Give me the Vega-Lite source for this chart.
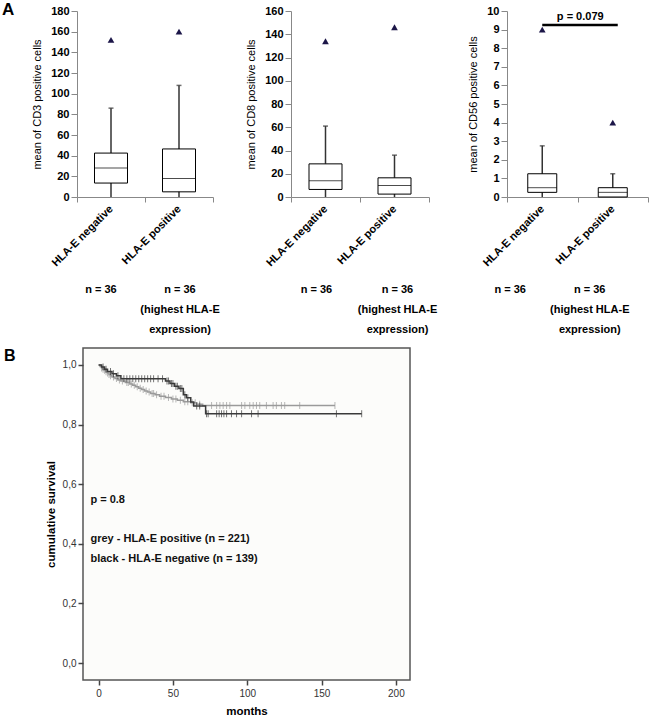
{
  "$schema": "https://vega.github.io/schema/vega-lite/v6.json",
  "autosize": {"type": "pad"},
  "padding": {"left": 2, "top": 1, "right": 0, "bottom": 0},
  "background": "white",
  "config": {
    "font": "Liberation Sans",
    "view": {"stroke": null},
    "axis": {"grid": false, "labelFont": "Liberation Sans", "titleFont": "Liberation Sans", "labelColor": "#000", "titleColor": "#000"},
    "axisY": {"labelFontWeight": "bold", "labelFontSize": 11, "titleFontWeight": "normal", "titleFontSize": 11, "tickSize": 6, "labelPadding": 2, "titlePadding": 8, "domainColor": "#888", "tickColor": "#888", "labelOverlap": false}
  },
  "datasets": {
    "km": [
      {"g": "pos", "m": 0, "s": 1.0}, {"g": "pos", "m": 1, "s": 0.995}, {"g": "pos", "m": 2, "s": 0.99}, {"g": "pos", "m": 3, "s": 0.986},
      {"g": "pos", "m": 4, "s": 0.982}, {"g": "pos", "m": 5, "s": 0.977}, {"g": "pos", "m": 6, "s": 0.973}, {"g": "pos", "m": 7, "s": 0.968},
      {"g": "pos", "m": 8, "s": 0.964}, {"g": "pos", "m": 9, "s": 0.96}, {"g": "pos", "m": 11, "s": 0.955}, {"g": "pos", "m": 13, "s": 0.95},
      {"g": "pos", "m": 15, "s": 0.946}, {"g": "pos", "m": 18, "s": 0.941}, {"g": "pos", "m": 21, "s": 0.936}, {"g": "pos", "m": 23, "s": 0.932},
      {"g": "pos", "m": 25, "s": 0.927}, {"g": "pos", "m": 27, "s": 0.922}, {"g": "pos", "m": 29, "s": 0.918}, {"g": "pos", "m": 31, "s": 0.913},
      {"g": "pos", "m": 33, "s": 0.909}, {"g": "pos", "m": 35, "s": 0.904}, {"g": "pos", "m": 38, "s": 0.9}, {"g": "pos", "m": 41, "s": 0.895},
      {"g": "pos", "m": 45, "s": 0.891}, {"g": "pos", "m": 49, "s": 0.886}, {"g": "pos", "m": 53, "s": 0.882}, {"g": "pos", "m": 57, "s": 0.877},
      {"g": "pos", "m": 62, "s": 0.873}, {"g": "pos", "m": 66, "s": 0.868}, {"g": "pos", "m": 70, "s": 0.864}, {"g": "pos", "m": 159, "s": 0.864},
      {"g": "neg", "m": 0, "s": 1.0}, {"g": "neg", "m": 2, "s": 0.993}, {"g": "neg", "m": 4, "s": 0.986}, {"g": "neg", "m": 6, "s": 0.978},
      {"g": "neg", "m": 9, "s": 0.971}, {"g": "neg", "m": 12, "s": 0.964}, {"g": "neg", "m": 15, "s": 0.954}, {"g": "neg", "m": 45, "s": 0.946},
      {"g": "neg", "m": 48, "s": 0.938}, {"g": "neg", "m": 51, "s": 0.929}, {"g": "neg", "m": 54, "s": 0.921}, {"g": "neg", "m": 57, "s": 0.9},
      {"g": "neg", "m": 59, "s": 0.89}, {"g": "neg", "m": 62, "s": 0.876}, {"g": "neg", "m": 64, "s": 0.862}, {"g": "neg", "m": 72, "s": 0.836},
      {"g": "neg", "m": 177, "s": 0.836}
    ],
    "cens": [
      {"g": "pos", "m": 2, "s": 0.99}, {"g": "pos", "m": 3, "s": 0.986}, {"g": "pos", "m": 4, "s": 0.982}, {"g": "pos", "m": 5, "s": 0.977},
      {"g": "pos", "m": 6, "s": 0.973}, {"g": "pos", "m": 7, "s": 0.968}, {"g": "pos", "m": 8, "s": 0.964}, {"g": "pos", "m": 10, "s": 0.96},
      {"g": "pos", "m": 12, "s": 0.955}, {"g": "pos", "m": 14, "s": 0.95}, {"g": "pos", "m": 16, "s": 0.946}, {"g": "pos", "m": 19, "s": 0.941},
      {"g": "pos", "m": 20, "s": 0.941}, {"g": "pos", "m": 22, "s": 0.936}, {"g": "pos", "m": 24, "s": 0.932}, {"g": "pos", "m": 26, "s": 0.927},
      {"g": "pos", "m": 28, "s": 0.922}, {"g": "pos", "m": 30, "s": 0.918}, {"g": "pos", "m": 32, "s": 0.913}, {"g": "pos", "m": 34, "s": 0.909},
      {"g": "pos", "m": 36, "s": 0.904}, {"g": "pos", "m": 37, "s": 0.904}, {"g": "pos", "m": 39, "s": 0.9}, {"g": "pos", "m": 42, "s": 0.895},
      {"g": "pos", "m": 44, "s": 0.895}, {"g": "pos", "m": 47, "s": 0.891}, {"g": "pos", "m": 50, "s": 0.886}, {"g": "pos", "m": 52, "s": 0.886},
      {"g": "pos", "m": 55, "s": 0.882}, {"g": "pos", "m": 58, "s": 0.877}, {"g": "pos", "m": 60, "s": 0.877}, {"g": "pos", "m": 63, "s": 0.873},
      {"g": "pos", "m": 65, "s": 0.873}, {"g": "pos", "m": 68, "s": 0.868}, {"g": "pos", "m": 76, "s": 0.864}, {"g": "pos", "m": 79.4, "s": 0.864},
      {"g": "pos", "m": 81.6, "s": 0.864}, {"g": "pos", "m": 83.8, "s": 0.864}, {"g": "pos", "m": 86.1, "s": 0.864}, {"g": "pos", "m": 88.3, "s": 0.864},
      {"g": "pos", "m": 96.2, "s": 0.864}, {"g": "pos", "m": 98.4, "s": 0.864}, {"g": "pos", "m": 101.7, "s": 0.864}, {"g": "pos", "m": 104, "s": 0.864},
      {"g": "pos", "m": 106.2, "s": 0.864}, {"g": "pos", "m": 108.4, "s": 0.864}, {"g": "pos", "m": 112.9, "s": 0.864}, {"g": "pos", "m": 117.4, "s": 0.864},
      {"g": "pos", "m": 119.6, "s": 0.864}, {"g": "pos", "m": 123, "s": 0.864}, {"g": "pos", "m": 125.2, "s": 0.864}, {"g": "pos", "m": 135.3, "s": 0.864},
      {"g": "pos", "m": 159, "s": 0.864},
      {"g": "neg", "m": 3, "s": 0.993}, {"g": "neg", "m": 5, "s": 0.986}, {"g": "neg", "m": 8, "s": 0.978}, {"g": "neg", "m": 10, "s": 0.971},
      {"g": "neg", "m": 13, "s": 0.964}, {"g": "neg", "m": 17, "s": 0.954}, {"g": "neg", "m": 19, "s": 0.954}, {"g": "neg", "m": 21, "s": 0.954},
      {"g": "neg", "m": 23, "s": 0.954}, {"g": "neg", "m": 25, "s": 0.954}, {"g": "neg", "m": 27, "s": 0.954}, {"g": "neg", "m": 29, "s": 0.954},
      {"g": "neg", "m": 31, "s": 0.954}, {"g": "neg", "m": 33, "s": 0.954}, {"g": "neg", "m": 35, "s": 0.954}, {"g": "neg", "m": 37, "s": 0.954},
      {"g": "neg", "m": 40, "s": 0.954}, {"g": "neg", "m": 43, "s": 0.954}, {"g": "neg", "m": 46, "s": 0.946}, {"g": "neg", "m": 47, "s": 0.946},
      {"g": "neg", "m": 49, "s": 0.938}, {"g": "neg", "m": 50, "s": 0.938}, {"g": "neg", "m": 52, "s": 0.929}, {"g": "neg", "m": 53, "s": 0.929},
      {"g": "neg", "m": 55, "s": 0.921}, {"g": "neg", "m": 56, "s": 0.921}, {"g": "neg", "m": 58, "s": 0.9}, {"g": "neg", "m": 60, "s": 0.89},
      {"g": "neg", "m": 66, "s": 0.862}, {"g": "neg", "m": 68, "s": 0.862}, {"g": "neg", "m": 72.6, "s": 0.836}, {"g": "neg", "m": 73.7, "s": 0.836},
      {"g": "neg", "m": 79.4, "s": 0.836}, {"g": "neg", "m": 81.1, "s": 0.836}, {"g": "neg", "m": 82.7, "s": 0.836}, {"g": "neg", "m": 84.3, "s": 0.836},
      {"g": "neg", "m": 86.1, "s": 0.836}, {"g": "neg", "m": 89.4, "s": 0.836}, {"g": "neg", "m": 92.8, "s": 0.836}, {"g": "neg", "m": 96.2, "s": 0.836},
      {"g": "neg", "m": 102.9, "s": 0.836}, {"g": "neg", "m": 107.3, "s": 0.836}, {"g": "neg", "m": 160, "s": 0.836}, {"g": "neg", "m": 177, "s": 0.836}
    ],
    "notes": [
      {"m": -5.5, "s": 0.548, "label": "p = 0.8"},
      {"m": -5.5, "s": 0.416, "label": "grey - HLA-E  positive (n = 221)"},
      {"m": -5.5, "s": 0.35, "label": "black - HLA-E negative (n = 139)"}
    ]
  },
  "vconcat": [
    {
      "hconcat": [
        {
          "width": 136, "height": 186,
          "title": {"text": "A", "orient": "left", "anchor": "end", "angle": 0, "align": "right", "baseline": "top", "fontSize": 17, "fontWeight": "bold", "offset": 5, "dy": -3},
          "data": {"values": [
            {"group": "HLA-E negative", "lo": 0, "q1": 13.5, "med": 28, "q3": 42.5, "hi": 86, "out": 152},
            {"group": "HLA-E positive", "lo": 0, "q1": 5, "med": 18, "q3": 46.5, "hi": 108, "out": 160}
          ]},
          "resolve": {"axis": {"x": "independent"}},
          "layer": [
            {"mark": {"type": "rule", "color": "#333", "strokeWidth": 1.5},
             "encoding": {
               "x": {"field": "group", "type": "nominal", "sort": null, "title": null, "scale": {"paddingInner": 0, "paddingOuter": 0},
                     "axis": {"labelAngle": -45, "labelAlign": "right", "labelBaseline": "middle", "tickBand": "extent", "tickSize": 5, "labelPadding": 5, "labelFontWeight": "bold", "labelFontSize": 11, "domainColor": "#888", "tickColor": "#888"}},
               "y": {"field": "lo", "type": "quantitative", "title": "mean of CD3 positive cells", "scale": {"domain": [0, 180], "nice": false}, "axis": {"values": [0, 20, 40, 60, 80, 100, 120, 140, 160, 180]}},
               "y2": {"field": "hi"}}},
            {"mark": {"type": "bar", "fill": "white", "stroke": "black", "strokeWidth": 1, "width": 33},
             "encoding": {
               "x": {"field": "group", "type": "nominal", "sort": null, "title": null, "axis": null},
               "y": {"field": "q1", "type": "quantitative", "title": "mean of CD3 positive cells", "scale": {"domain": [0, 180], "nice": false}, "axis": {"values": [0, 20, 40, 60, 80, 100, 120, 140, 160, 180]}},
               "y2": {"field": "q3"}}},
            {"mark": {"type": "tick", "color": "black", "size": 33, "thickness": 1},
             "encoding": {
               "x": {"field": "group", "type": "nominal", "sort": null, "title": null,
                     "axis": {"orient": "bottom", "offset": 86, "domain": false, "ticks": false, "labelAngle": 0, "labelAlign": "center", "labelBaseline": "top", "labelFontWeight": "bold", "labelFontSize": 11, "labelLineHeight": 20, "labelPadding": 0, "labelOverlap": false, "labelBound": false,
                              "labelOffset": {"condition": {"test": "datum.value === 'HLA-E negative'", "value": -10}, "value": 1},
                              "labelExpr": "datum.value === 'HLA-E negative' ? 'n = 36' : ['n = 36', '(highest HLA-E', 'expression)']"}},
               "y": {"field": "med", "type": "quantitative", "title": "mean of CD3 positive cells", "scale": {"domain": [0, 180], "nice": false}, "axis": {"values": [0, 20, 40, 60, 80, 100, 120, 140, 160, 180]}}}},
            {"mark": {"type": "tick", "color": "#333", "size": 5, "thickness": 1.5},
             "encoding": {
               "x": {"field": "group", "type": "nominal", "sort": null, "title": null, "axis": null},
               "y": {"field": "hi", "type": "quantitative", "title": "mean of CD3 positive cells", "scale": {"domain": [0, 180], "nice": false}, "axis": {"values": [0, 20, 40, 60, 80, 100, 120, 140, 160, 180]}}}},
            {"mark": {"type": "point", "shape": "triangle-up", "filled": true, "color": "#1c1648", "size": 45, "opacity": 1},
             "encoding": {
               "x": {"field": "group", "type": "nominal", "sort": null, "title": null, "axis": null},
               "y": {"field": "out", "type": "quantitative", "title": "mean of CD3 positive cells", "scale": {"domain": [0, 180], "nice": false}, "axis": {"values": [0, 20, 40, 60, 80, 100, 120, 140, 160, 180]}}}}
          ]
        },
        {
          "width": 138, "height": 186,
          "data": {"values": [
            {"group": "HLA-E negative", "lo": 0, "q1": 6.5, "med": 14, "q3": 28.5, "hi": 61, "out": 134},
            {"group": "HLA-E positive", "lo": 0, "q1": 2.5, "med": 10, "q3": 16.5, "hi": 36, "out": 146}
          ]},
          "resolve": {"axis": {"x": "independent"}},
          "layer": [
            {"mark": {"type": "rule", "color": "#333", "strokeWidth": 1.5},
             "encoding": {
               "x": {"field": "group", "type": "nominal", "sort": null, "title": null, "scale": {"paddingInner": 0, "paddingOuter": 0},
                     "axis": {"labelAngle": -45, "labelAlign": "right", "labelBaseline": "middle", "tickBand": "extent", "tickSize": 5, "labelPadding": 5, "labelFontWeight": "bold", "labelFontSize": 11, "domainColor": "#888", "tickColor": "#888"}},
               "y": {"field": "lo", "type": "quantitative", "title": "mean of CD8 positive cells", "scale": {"domain": [0, 160], "nice": false}, "axis": {"values": [0, 20, 40, 60, 80, 100, 120, 140, 160]}},
               "y2": {"field": "hi"}}},
            {"mark": {"type": "bar", "fill": "white", "stroke": "black", "strokeWidth": 1, "width": 33},
             "encoding": {
               "x": {"field": "group", "type": "nominal", "sort": null, "title": null, "axis": null},
               "y": {"field": "q1", "type": "quantitative", "title": "mean of CD8 positive cells", "scale": {"domain": [0, 160], "nice": false}, "axis": {"values": [0, 20, 40, 60, 80, 100, 120, 140, 160]}},
               "y2": {"field": "q3"}}},
            {"mark": {"type": "tick", "color": "black", "size": 33, "thickness": 1},
             "encoding": {
               "x": {"field": "group", "type": "nominal", "sort": null, "title": null,
                     "axis": {"orient": "bottom", "offset": 86, "domain": false, "ticks": false, "labelAngle": 0, "labelAlign": "center", "labelBaseline": "top", "labelFontWeight": "bold", "labelFontSize": 11, "labelLineHeight": 20, "labelPadding": 0, "labelOverlap": false, "labelBound": false,
                              "labelOffset": {"condition": {"test": "datum.value === 'HLA-E negative'", "value": -9}, "value": 3},
                              "labelExpr": "datum.value === 'HLA-E negative' ? 'n = 36' : ['n = 36', '(highest HLA-E', 'expression)']"}},
               "y": {"field": "med", "type": "quantitative", "title": "mean of CD8 positive cells", "scale": {"domain": [0, 160], "nice": false}, "axis": {"values": [0, 20, 40, 60, 80, 100, 120, 140, 160]}}}},
            {"mark": {"type": "tick", "color": "#333", "size": 5, "thickness": 1.5},
             "encoding": {
               "x": {"field": "group", "type": "nominal", "sort": null, "title": null, "axis": null},
               "y": {"field": "hi", "type": "quantitative", "title": "mean of CD8 positive cells", "scale": {"domain": [0, 160], "nice": false}, "axis": {"values": [0, 20, 40, 60, 80, 100, 120, 140, 160]}}}},
            {"mark": {"type": "point", "shape": "triangle-up", "filled": true, "color": "#1c1648", "size": 45, "opacity": 1},
             "encoding": {
               "x": {"field": "group", "type": "nominal", "sort": null, "title": null, "axis": null},
               "y": {"field": "out", "type": "quantitative", "title": "mean of CD8 positive cells", "scale": {"domain": [0, 160], "nice": false}, "axis": {"values": [0, 20, 40, 60, 80, 100, 120, 140, 160]}}}}
          ]
        },
        {
          "width": 141, "height": 186,
          "data": {"values": [
            {"group": "HLA-E negative", "lo": 0, "q1": 0.25, "med": 0.5, "q3": 1.25, "hi": 2.75, "out": 9},
            {"group": "HLA-E positive", "lo": 0, "q1": 0, "med": 0.25, "q3": 0.5, "hi": 1.25, "out": 4}
          ]},
          "resolve": {"axis": {"x": "independent"}},
          "layer": [
            {"mark": {"type": "rule", "color": "#333", "strokeWidth": 1.5},
             "encoding": {
               "x": {"field": "group", "type": "nominal", "sort": null, "title": null, "scale": {"paddingInner": 0, "paddingOuter": 0},
                     "axis": {"labelAngle": -45, "labelAlign": "right", "labelBaseline": "middle", "tickBand": "extent", "tickSize": 5, "labelPadding": 5, "labelFontWeight": "bold", "labelFontSize": 11, "domainColor": "#888", "tickColor": "#888"}},
               "y": {"field": "lo", "type": "quantitative", "title": "mean of CD56 positive cells", "scale": {"domain": [0, 10], "nice": false}, "axis": {"values": [0, 1, 2, 3, 4, 5, 6, 7, 8, 9, 10]}},
               "y2": {"field": "hi"}}},
            {"mark": {"type": "bar", "fill": "white", "stroke": "black", "strokeWidth": 1, "width": 29},
             "encoding": {
               "x": {"field": "group", "type": "nominal", "sort": null, "title": null, "axis": null},
               "y": {"field": "q1", "type": "quantitative", "title": "mean of CD56 positive cells", "scale": {"domain": [0, 10], "nice": false}, "axis": {"values": [0, 1, 2, 3, 4, 5, 6, 7, 8, 9, 10]}},
               "y2": {"field": "q3"}}},
            {"mark": {"type": "tick", "color": "black", "size": 29, "thickness": 1},
             "encoding": {
               "x": {"field": "group", "type": "nominal", "sort": null, "title": null,
                     "axis": {"orient": "bottom", "offset": 86, "domain": false, "ticks": false, "labelAngle": 0, "labelAlign": "center", "labelBaseline": "top", "labelFontWeight": "bold", "labelFontSize": 11, "labelLineHeight": 20, "labelPadding": 0, "labelOverlap": false, "labelBound": false,
                              "labelOffset": {"condition": {"test": "datum.value === 'HLA-E negative'", "value": -32}, "value": -23},
                              "labelExpr": "datum.value === 'HLA-E negative' ? 'n = 36' : ['n = 36', '(highest HLA-E', 'expression)']"}},
               "y": {"field": "med", "type": "quantitative", "title": "mean of CD56 positive cells", "scale": {"domain": [0, 10], "nice": false}, "axis": {"values": [0, 1, 2, 3, 4, 5, 6, 7, 8, 9, 10]}}}},
            {"mark": {"type": "tick", "color": "#333", "size": 5, "thickness": 1.5},
             "encoding": {
               "x": {"field": "group", "type": "nominal", "sort": null, "title": null, "axis": null},
               "y": {"field": "hi", "type": "quantitative", "title": "mean of CD56 positive cells", "scale": {"domain": [0, 10], "nice": false}, "axis": {"values": [0, 1, 2, 3, 4, 5, 6, 7, 8, 9, 10]}}}},
            {"mark": {"type": "point", "shape": "triangle-up", "filled": true, "color": "#1c1648", "size": 45, "opacity": 1},
             "encoding": {
               "x": {"field": "group", "type": "nominal", "sort": null, "title": null, "axis": null},
               "y": {"field": "out", "type": "quantitative", "title": "mean of CD56 positive cells", "scale": {"domain": [0, 10], "nice": false}, "axis": {"values": [0, 1, 2, 3, 4, 5, 6, 7, 8, 9, 10]}}}},
            {"data": {"values": [{"group": "HLA-E negative", "group2": "HLA-E positive", "y": 9.25, "label": "p = 0.079"}]},
             "mark": {"type": "rule", "color": "black", "strokeWidth": 2.5, "x2Offset": 5},
             "encoding": {
               "x": {"field": "group", "type": "nominal", "sort": null, "title": null, "axis": null},
               "x2": {"field": "group2"},
               "y": {"field": "y", "type": "quantitative", "title": "mean of CD56 positive cells", "scale": {"domain": [0, 10], "nice": false}, "axis": {"values": [0, 1, 2, 3, 4, 5, 6, 7, 8, 9, 10]}}}},
            {"data": {"values": [{"group": "HLA-E negative", "y": 9.25, "label": "p = 0.079"}]},
             "mark": {"type": "text", "fontWeight": "bold", "fontSize": 11, "baseline": "bottom", "dy": -3, "xOffset": 38},
             "encoding": {
               "x": {"field": "group", "type": "nominal", "sort": null, "title": null, "axis": null},
               "y": {"field": "y", "type": "quantitative", "title": "mean of CD56 positive cells", "scale": {"domain": [0, 10], "nice": false}, "axis": {"values": [0, 1, 2, 3, 4, 5, 6, 7, 8, 9, 10]}},
               "text": {"field": "label"}}}
          ]
        }
      ],
      "spacing": 78,
      "bounds": "flush"
    },
    {
      "hconcat": [
        {"width": 1, "height": 332, "data": {"values": [{"k": 0}]}, "mark": {"type": "point", "opacity": 0}, "encoding": {}},
        {
          "width": 327, "height": 332,
          "view": {"stroke": "#555", "strokeWidth": 1.5, "fill": "#fcfcfa"},
          "title": {"text": "B", "orient": "left", "anchor": "end", "angle": 0, "align": "right", "baseline": "top", "fontSize": 16, "fontWeight": "bold", "offset": 18, "dy": 0},
          "encoding": {
            "x": {"field": "m", "type": "quantitative", "title": "months", "scale": {"domain": [-10.5, 209.5], "nice": false, "zero": false},
                  "axis": {"values": [0, 50, 100, 150, 200], "domain": false, "tickSize": 5, "tickWidth": 1.5, "tickColor": "#444", "labelFontSize": 10, "labelFontWeight": "normal", "labelColor": "#333", "labelPadding": 3, "titleFontSize": 11.5, "titleFontWeight": "bold", "titlePadding": 7}},
            "y": {"field": "s", "type": "quantitative", "title": "cumulative survival", "scale": {"domain": [-0.057, 1.057], "nice": false, "zero": false},
                  "axis": {"values": [0, 0.2, 0.4, 0.6, 0.8, 1], "labelExpr": "replace(format(datum.value, '.1f'), '.', ',')", "domain": false, "tickSize": 5, "tickWidth": 1.5, "tickColor": "#444", "labelFontSize": 10, "labelFontWeight": "normal", "labelColor": "#333", "labelPadding": 2, "titleFontSize": 11.5, "titleFontWeight": "bold", "titlePadding": 6}}
          },
          "layer": [
            {"data": {"name": "km"}, "transform": [{"filter": "datum.g === 'pos'"}],
             "mark": {"type": "line", "interpolate": "step-after", "color": "#9a9a9a", "strokeWidth": 1.5}},
            {"data": {"name": "cens"}, "transform": [{"filter": "datum.g === 'pos'"}],
             "mark": {"type": "tick", "orient": "vertical", "size": 7, "thickness": 1, "color": "#9a9a9a"}},
            {"data": {"name": "km"}, "transform": [{"filter": "datum.g === 'neg'"}],
             "mark": {"type": "line", "interpolate": "step-after", "color": "#3a3a3a", "strokeWidth": 1.5}},
            {"data": {"name": "cens"}, "transform": [{"filter": "datum.g === 'neg'"}],
             "mark": {"type": "tick", "orient": "vertical", "size": 7, "thickness": 1, "color": "#3a3a3a"}},
            {"data": {"name": "notes"},
             "mark": {"type": "text", "align": "left", "baseline": "middle", "fontWeight": "bold", "fontSize": 11, "color": "#111"},
             "encoding": {"text": {"field": "label"}}}
          ]
        }
      ],
      "spacing": 5,
      "bounds": "flush"
    }
  ],
  "spacing": 337,
  "bounds": "flush"
}
